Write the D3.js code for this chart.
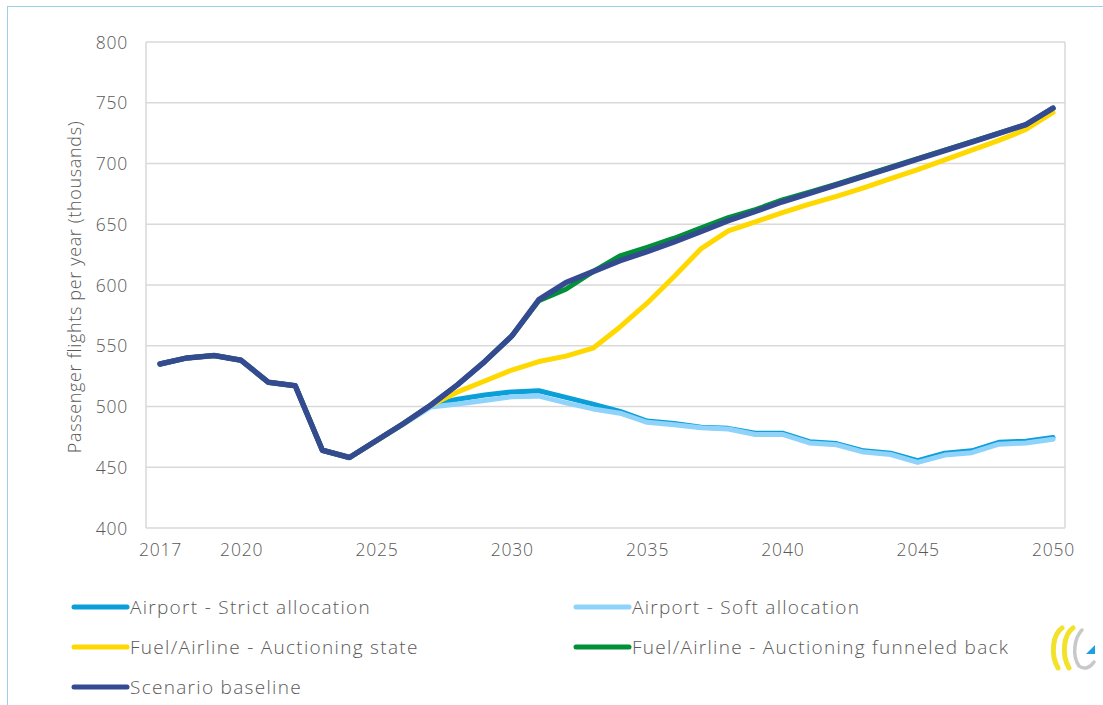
<!DOCTYPE html>
<html>
<head>
<meta charset="utf-8">
<script src="https://cdn.jsdelivr.net/npm/d3@7"></script>
<style>
  html, body { margin: 0; padding: 0; background: #fff; }
  svg { display: block; }
  text { font-family: "Open Sans", "Lato", "DejaVu Sans", sans-serif; font-weight: 300; fill: #595959; }
</style>
</head>
<body>
<svg id="chart" width="1103" height="705"></svg>
<script>
// Passenger flights per year (thousands), 2017–2050
const years = d3.range(2017, 2051);

const strictAllocation = [535, 540, 542, 538, 520, 517, 464, 458, 472, 486, 501,
  506, 509.5, 512, 513, 507.5, 502, 496, 488, 486, 483, 482, 478, 478,
  471, 469.5, 463.5, 461.5, 455.5, 461.5, 463.5, 470.5, 471.5, 474.5];

const softAllocation = [535, 540, 542, 538, 520, 517, 464, 458, 472, 485.5, 499.5,
  502, 505, 508, 508.5, 503, 498, 494.5, 487, 485, 482.5, 481.5, 477, 477,
  470, 468.5, 462.5, 460.5, 454, 460, 462, 469, 470, 473];

const auctioningState = [535, 540, 542, 538, 520, 517, 464, 458, 472, 486, 501,
  512, 521, 530, 537, 541.5, 548, 565.5, 585, 607, 630, 644.5, 652, 659.5,
  666.5, 673, 680, 687.5, 695, 703, 711, 719, 728, 742];

const auctioningFunneledBack = [535, 540, 542, 538, 520, 517, 464, 458, 472, 486, 501,
  518, 537, 558, 587, 596.5, 611, 624, 631, 638.5, 647, 655.5, 662, 670,
  676.5, 683, 690, 697, 704, 711, 718, 725, 732, 745.5];

const scenarioBaseline = [535, 540, 542, 538, 520, 517, 464, 458, 472, 486, 501,
  518, 537, 558, 588, 602, 611, 620, 627.5, 635.5, 644, 653, 660.5, 668.5,
  675.5, 682.5, 689.5, 696.5, 703.5, 710.5, 717.5, 724.8, 732, 745.5];

const xTickYears = [2017, 2020, 2025, 2030, 2035, 2040, 2045, 2050];
const yTicks = [400, 450, 500, 550, 600, 650, 700, 750, 800];

const seriesNames = [
  "Airport - Strict allocation",
  "Airport - Soft allocation",
  "Fuel/Airline - Auctioning state",
  "Fuel/Airline - Auctioning funneled back",
  "Scenario baseline"
];
const seriesColors = ["#0a9fd8", "#8fd3fb", "#ffd800", "#009038", "#344b92"];
const seriesValues = [strictAllocation, softAllocation, auctioningState, auctioningFunneledBack, scenarioBaseline];

const svg = d3.select("#chart");

// outer chart frame
svg.append("rect")
  .attr("x", 7.5).attr("y", 6.5)
  .attr("width", 1120).attr("height", 720)
  .attr("fill", "none")
  .attr("stroke", "#9ecfe8")
  .attr("stroke-width", 1);

const plot = { left: 146, right: 1065, top: 42, bottom: 528 };

const x = d3.scaleLinear().domain([2017, 2050]).range([160, 1053]);
const y = d3.scaleLinear().domain([400, 800]).range([plot.bottom, plot.top]);

// horizontal gridlines
svg.append("g")
  .selectAll("line")
  .data(yTicks)
  .join("line")
  .attr("x1", plot.left).attr("x2", plot.right)
  .attr("y1", d => y(d)).attr("y2", d => y(d))
  .attr("stroke", "#d9d9d9")
  .attr("stroke-width", 1.5);

// plot area side borders
svg.append("g")
  .selectAll("line")
  .data([plot.left, plot.right])
  .join("line")
  .attr("x1", d => d).attr("x2", d => d)
  .attr("y1", plot.top).attr("y2", plot.bottom)
  .attr("stroke", "#d9d9d9")
  .attr("stroke-width", 1.5);

// y axis labels
const yAxis = d3.axisLeft(y).tickValues(yTicks).tickSize(0).tickPadding(0);
const gy = svg.append("g").attr("transform", `translate(128,0)`).call(yAxis);
gy.select(".domain").remove();
gy.selectAll("text")
  .attr("font-size", 17.5)
  .attr("letter-spacing", 0.8)
  .attr("font-family", null)
  .attr("fill", "#595959")
  .attr("dy", "0.35em");

// x axis labels
const xAxis = d3.axisBottom(x).tickValues(xTickYears).tickFormat(d3.format("d")).tickSize(0).tickPadding(0);
const gx = svg.append("g").attr("transform", `translate(0,${plot.bottom + 15})`).call(xAxis);
gx.select(".domain").remove();
gx.selectAll("text")
  .attr("font-size", 17.5)
  .attr("letter-spacing", 0.8)
  .attr("font-family", null)
  .attr("fill", "#595959")
  .attr("dy", "0.75em");

// y axis title
svg.append("text")
  .attr("transform", `translate(81,${(plot.top + plot.bottom) / 2 + 2}) rotate(-90)`)
  .attr("text-anchor", "middle")
  .attr("font-size", 18)
  .attr("letter-spacing", 0.65)
  .text("Passenger flights per year (thousands)");

// series lines
const line = d3.line()
  .x((d, i) => x(years[i]))
  .y(d => y(d));

svg.append("g")
  .selectAll("path")
  .data(seriesValues)
  .join("path")
  .attr("d", d => line(d))
  .attr("fill", "none")
  .attr("stroke", (d, i) => seriesColors[i])
  .attr("stroke-width", (d, i) => i === 4 ? 5.5 : 5)
  .attr("stroke-linejoin", "round")
  .attr("stroke-linecap", "round");

// legend
const legendPos = [
  { x: 72, y: 607 }, { x: 574, y: 607 },
  { x: 72, y: 647 }, { x: 574, y: 647 },
  { x: 72, y: 687 }
];
const legend = svg.append("g")
  .selectAll("g")
  .data(seriesNames)
  .join("g")
  .attr("transform", (d, i) => `translate(${legendPos[i].x},${legendPos[i].y})`);
legend.append("line")
  .attr("x1", 2).attr("x2", 55)
  .attr("y1", 0).attr("y2", 0)
  .attr("stroke", (d, i) => seriesColors[i])
  .attr("stroke-width", 5)
  .attr("stroke-linecap", "round");
legend.append("text")
  .attr("x", 58)
  .attr("dy", "0.35em")
  .attr("font-size", 19)
  .attr("letter-spacing", 1.3)
  .text(d => d);

// small emblem in the lower right corner
const logo = svg.append("g").attr("transform", "translate(1050,626)");
logo.append("path")
  .attr("d", "M12,2 C3,8 0,28 8,42")
  .attr("fill", "none").attr("stroke", "#f2e22a").attr("stroke-width", 5).attr("stroke-linecap", "round");
logo.append("path")
  .attr("d", "M23,2 C14,8 11,28 19,42")
  .attr("fill", "none").attr("stroke", "#f2e22a").attr("stroke-width", 5).attr("stroke-linecap", "round");
logo.append("path")
  .attr("d", "M32,4 C24,12 22,30 29,40 C34,44 40,42 44,36")
  .attr("fill", "none").attr("stroke", "#c8c8c8").attr("stroke-width", 3.5).attr("stroke-linecap", "round");
logo.append("path")
  .attr("d", "M36,28 L45,19 L45,28 Z")
  .attr("fill", "#1ea0e0");
</script>
</body>
</html>
